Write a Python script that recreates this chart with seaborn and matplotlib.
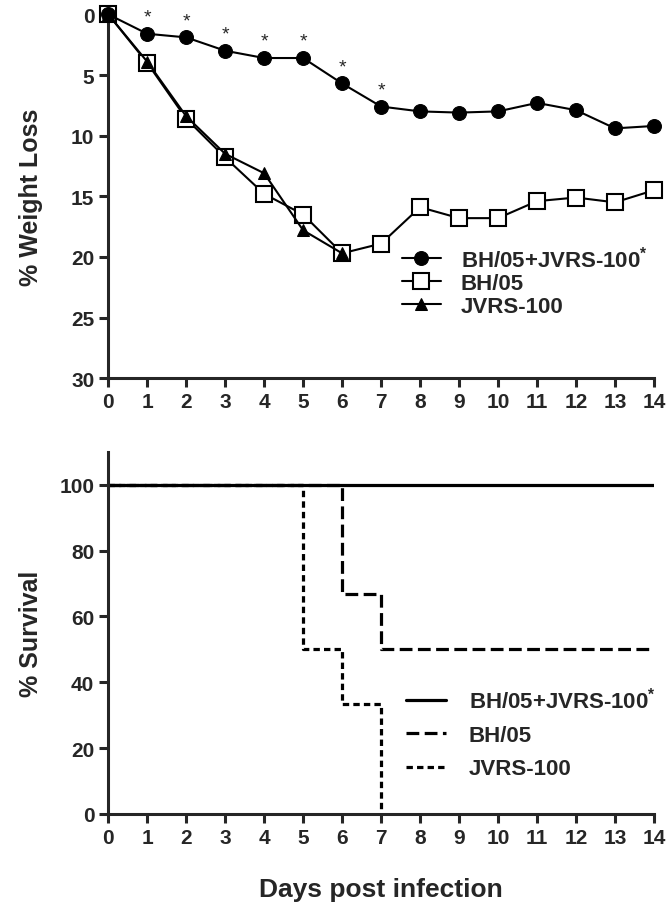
import numpy as np
import pandas as pd
from matplotlib import pyplot as plt
import seaborn as sns

sns.set_style('ticks')
plt.rcParams['font.family'] = ['Liberation Sans', 'DejaVu Sans']
plt.rcParams['font.weight'] = 'bold'
plt.rcParams['mathtext.fontset'] = 'custom'
plt.rcParams['mathtext.rm'] = 'Liberation Sans:bold'
plt.rcParams['mathtext.it'] = 'Liberation Sans:bold'

# weight loss data
days = list(range(15))
combo_loss = [0, 1.6, 1.9, 3.0, 3.6, 3.6, 5.7, 7.6, 8.0, 8.1, 8.0, 7.3, 7.9, 9.4, 9.2]
bh05_loss = [0, 4.0, 8.6, 11.8, 14.8, 16.5, 19.7, 18.9, 15.9, 16.8, 16.8, 15.4, 15.1, 15.5, 14.5]
jvrs_days = [0, 1, 2, 3, 4, 5, 6]
jvrs_loss = [0, 3.9, 8.4, 11.5, 13.1, 17.8, 19.7]
star_days = [1, 2, 3, 4, 5, 6, 7]

# survival data
surv_days = [0, 5, 6, 7, 14]
combo_surv = [100, 100, 100, 100, 100]
bh05_surv = [100, 100, 66.7, 50, 50]
jvrs_surv_days = [0, 5, 6, 7]
jvrs_surv = [100, 50, 33.3, 0]

labels = ['BH/05+JVRS-100$^{*}$', 'BH/05', 'JVRS-100']
long_dash = [4, 1.7]
short_dash = [2, 1.3]

fig = plt.figure(figsize=(6.68, 9.03), dpi=100)
ax1 = fig.add_axes([0.162, 0.580, 0.817, 0.403])
ax2 = fig.add_axes([0.162, 0.0975, 0.817, 0.401])

sns.lineplot(x=days, y=combo_loss, ax=ax1, color='black', lw=1.5, marker='o',
             markersize=10, markeredgecolor='black', label=labels[0], clip_on=False, zorder=4)
sns.lineplot(x=days, y=bh05_loss, ax=ax1, color='black', lw=1.5, marker='s',
             markersize=11, markerfacecolor='white', markeredgecolor='black',
             markeredgewidth=1.5, label=labels[1], clip_on=False, zorder=3)
sns.lineplot(x=jvrs_days, y=jvrs_loss, ax=ax1, color='black', lw=1.5, marker='^',
             markersize=9, markeredgecolor='black', label=labels[2], clip_on=False, zorder=5)

for d in star_days:
    ax1.annotate('*', (d, combo_loss[d]), xytext=(0, 6), textcoords='offset points',
                 ha='center', va='bottom', fontsize=14, fontweight='normal')

ax1.set_xlim(0, 14)
ax1.set_ylim(30, 0)
ax1.set_yticks([0, 5, 10, 15, 20, 25, 30])
ax1.set_xticks(days)
ax1.set_ylabel('% Weight Loss', fontsize=18, fontweight='bold')
ax1.legend(loc='upper left', bbox_to_anchor=(0.522, 0.39), frameon=False, fontsize=16,
           handlelength=1.75, handletextpad=0.9, labelspacing=0.08, borderaxespad=0)

sns.lineplot(x=surv_days, y=combo_surv, ax=ax2, color='black', lw=2.3,
             drawstyle='steps-post', label=labels[0])
sns.lineplot(x=surv_days, y=bh05_surv, ax=ax2, color='black', lw=2.3,
             drawstyle='steps-post', label=labels[1])
sns.lineplot(x=jvrs_surv_days, y=jvrs_surv, ax=ax2, color='black', lw=2.3,
             drawstyle='steps-post', label=labels[2])
lines = ax2.get_lines()
lines[1].set_dashes(long_dash)
lines[2].set_dashes(short_dash)

ax2.set_xlim(0, 14)
ax2.set_ylim(0, 110)
ax2.set_yticks([0, 20, 40, 60, 80, 100])
ax2.set_xticks(days)
ax2.set_ylabel('% Survival', fontsize=18, fontweight='bold')
ax2.set_xlabel('Days post infection', fontsize=19, fontweight='bold', labelpad=22)
leg = ax2.legend(loc='upper left', bbox_to_anchor=(0.53, 0.375), frameon=False, fontsize=16,
                 handlelength=1.8, handletextpad=1.0, labelspacing=0.55, borderaxespad=0)
leg.get_lines()[1].set_dashes(long_dash)
leg.get_lines()[2].set_dashes(short_dash)

for ax in (ax1, ax2):
    sns.despine(ax=ax)
    for s in ('left', 'bottom'):
        ax.spines[s].set_linewidth(2.2)
    ax.tick_params(width=2.2, length=6.5, labelsize=15)
    for t in ax.get_xticklabels() + ax.get_yticklabels():
        t.set_fontweight('bold')
    ax.yaxis.set_label_coords(-0.12, 0.5)

fig.savefig('out.png', dpi=100)
